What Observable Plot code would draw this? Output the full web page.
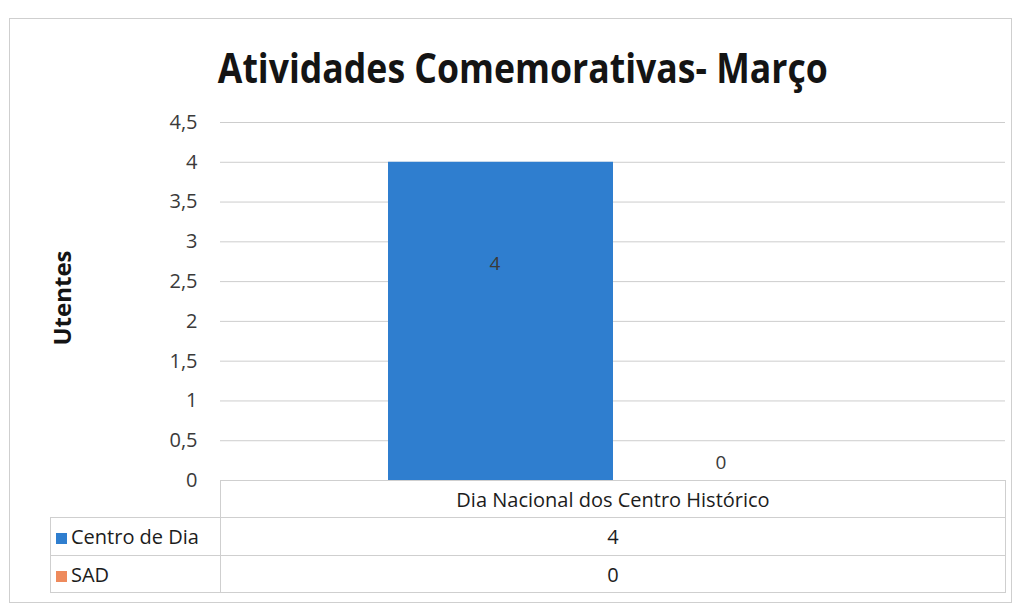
<!DOCTYPE html>
<html><head><meta charset="utf-8">
<script src="https://cdn.jsdelivr.net/npm/d3@7"></script>
<script src="https://cdn.jsdelivr.net/npm/@observablehq/plot@0.6"></script>
<style>
body{margin:0;background:#fff;font-family:"Open Sans",sans-serif;}
#wrap{position:relative;width:1021px;height:610px;overflow:hidden;background:#fff;}
#frame{position:absolute;left:9px;top:18px;width:1003px;height:585px;border:1px solid #cfcfcf;box-sizing:border-box;}
#title{position:absolute;left:12px;width:1021px;top:38px;text-align:center;white-space:nowrap;}
#title span{display:inline-block;font-weight:700;font-size:42px;color:#141414;transform-origin:center;}
#chart{position:absolute;left:0;top:0;}
#ylab{position:absolute;left:61px;top:298px;transform:translate(-50%,-50%) rotate(-90deg);font-weight:700;font-size:24px;color:#141414;white-space:nowrap;}
#tbl{position:absolute;left:50px;top:480px;border-collapse:collapse;table-layout:fixed;width:955px;font-size:20px;color:#1c1c1c;}
#tbl td{border:1px solid #cfcfcf;padding:0;box-sizing:border-box;}
#tbl td.empty{border:none;border-right:1px solid #cfcfcf;}
#tbl td.lg{padding-left:5px;white-space:nowrap;}
#tbl td.val{text-align:center;}
.key{display:inline-block;width:11px;height:11px;margin-right:4px;vertical-align:0px;}
</style></head>
<body>
<div id="wrap">
  <div id="frame"></div>
  <div id="chart"></div>
  <div id="title"><span></span></div>
  <div id="ylab"></div>
  <table id="tbl"><colgroup><col style="width:170px"><col style="width:785px"></colgroup><tbody></tbody></table>
</div>
<script>
const titleText = "Atividades Comemorativas- Março";
const yLabel = "Utentes";
const categories = ["Dia Nacional dos Centro Histórico"];
const series = ["Centro de Dia", "SAD"];
const centroDeDia = [4];
const sad = [0];
const yTicks = [0, 0.5, 1, 1.5, 2, 2.5, 3, 3.5, 4, 4.5];
const colors = ["#2F7ECF", "#EE8A5C"];

const values = {"Centro de Dia": centroDeDia, "SAD": sad};
const data = [];
categories.forEach((c, i) => series.forEach(s => data.push({cat: c, series: s, value: values[s][i]})));

const fmt = d => String(d).replace(".", ",");

const chart = Plot.plot({
  width: 1021,
  height: 610,
  marginLeft: 220,
  marginRight: 16,
  marginTop: 122,
  marginBottom: 130,
  style: {fontFamily: "Open Sans", fontSize: "20px", color: "#404040", background: "transparent"},
  fx: {domain: categories, axis: null, padding: 0},
  x: {domain: series, axis: null, paddingInner: 0, paddingOuter: 0.737},
  y: {domain: [0, 4.5], axis: null},
  color: {domain: series, range: colors},
  marks: [
    Plot.gridY(yTicks, {stroke: "#cdcdcd", strokeOpacity: 1, strokeWidth: 1}),
    Plot.axisY(yTicks, {tickSize: 0, tickPadding: 23, tickFormat: fmt, label: null, fill: "#3a3a3a", fontSize: 20}),
    Plot.barY(data, {fx: "cat", x: "series", y: "value", fill: "series"}),
    Plot.text(data.filter(d => d.value > 0), {fx: "cat", x: "series", y: "value", text: d => fmt(d.value), dy: 102, dx: -6, fill: "#3a3a3a", fontSize: 19}),
    Plot.text(data.filter(d => d.value === 0), {fx: "cat", x: "series", y: "value", text: d => fmt(d.value), dy: -18, dx: -5, fill: "#3a3a3a", fontSize: 19})
  ]
});
document.getElementById("chart").appendChild(chart);

const tspan = document.querySelector("#title span");
tspan.textContent = titleText;
const w = tspan.getBoundingClientRect().width;
tspan.style.transform = `scaleX(${610 / w})`;
document.getElementById("ylab").textContent = yLabel;

const tbody = document.querySelector("#tbl tbody");
const heights = [37, 38, 37];
let html = `<tr style="height:${heights[0]}px"><td class="empty lg"></td>` + categories.map(c => `<td class="val">${c}</td>`).join("") + `</tr>`;
series.forEach((s, k) => {
  html += `<tr style="height:${heights[k + 1]}px"><td class="lg"><span class="key" style="background:${colors[k]}"></span>${s}</td>` +
    categories.map((c, i) => `<td class="val">${fmt(values[s][i])}</td>`).join("") + `</tr>`;
});
tbody.innerHTML = html;
</script>
</body></html>
